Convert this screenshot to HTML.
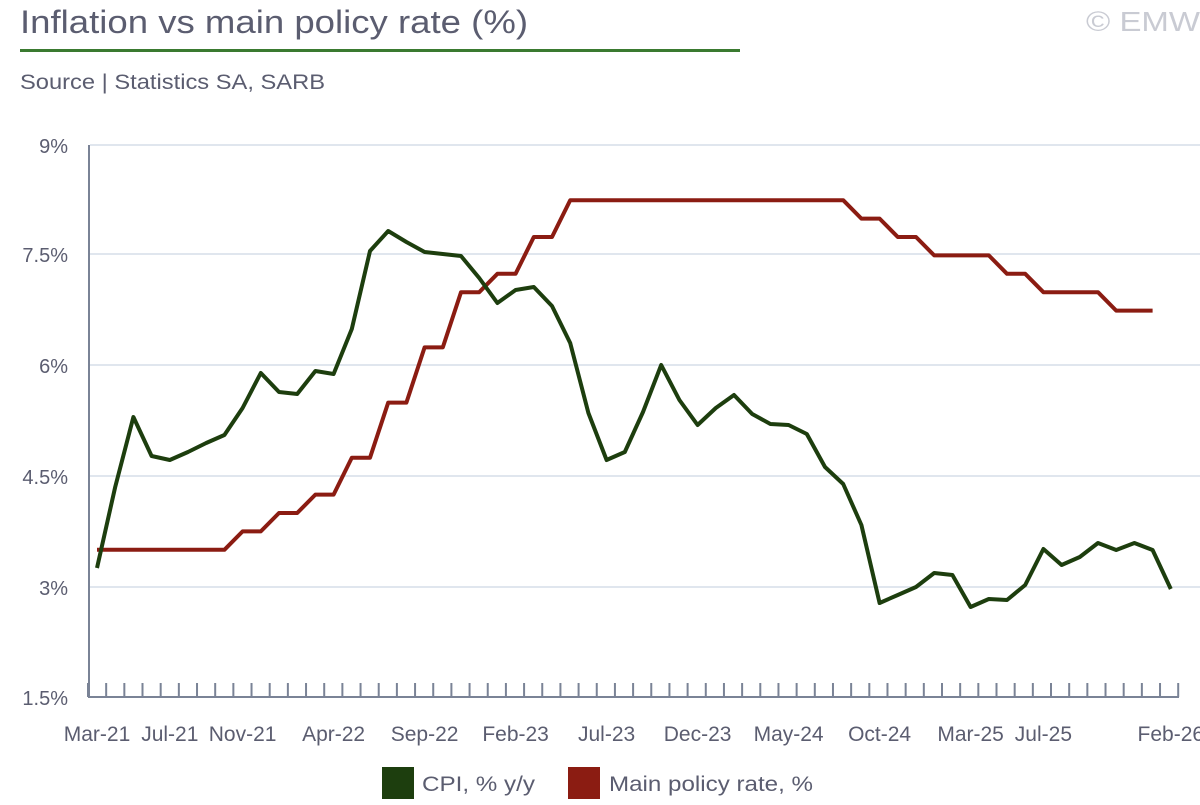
<!DOCTYPE html>
<html><head><meta charset="utf-8"><style>
body{margin:0;background:#fff;width:1200px;height:800px;overflow:hidden;font-family:"Liberation Sans",sans-serif}
</style></head><body>
<svg id="s" width="1200" height="800" xmlns="http://www.w3.org/2000/svg" font-family="Liberation Sans, sans-serif">
<text x="20" y="33" font-size="32" fill="#5b5d70" textLength="508" lengthAdjust="spacingAndGlyphs">Inflation vs main policy rate (%)</text>
<rect x="20" y="49" width="720" height="3" fill="#3a7a30"/>
<text x="1086" y="31" font-size="28" fill="#c9cbd3" textLength="114" lengthAdjust="spacingAndGlyphs">© EMW</text>
<text x="20" y="89" font-size="21" fill="#5b5d70" textLength="305" lengthAdjust="spacingAndGlyphs">Source | Statistics SA, SARB</text>
<g id="grid"></g>
<g id="ticks" stroke="#7a8396" stroke-width="2"></g>
<g font-size="20" fill="#5b5d70" text-anchor="end">
<text x="68" y="153">9%</text><text x="68" y="262">7.5%</text><text x="68" y="373">6%</text>
<text x="68" y="484">4.5%</text><text x="68" y="595">3%</text><text x="68" y="705">1.5%</text>
</g>
<g id="xl" font-size="21" fill="#5b5d70" text-anchor="middle"></g>
<polyline id="red" fill="none" stroke="#8b1c12" stroke-width="4" stroke-linejoin="round"/>
<polyline id="grn" fill="none" stroke="#1d3e0e" stroke-width="4" stroke-linejoin="round"/>
<rect x="382" y="767" width="32" height="32" fill="#1d3e0e"/>
<text x="422" y="791" font-size="21" fill="#5b5d70" textLength="113" lengthAdjust="spacingAndGlyphs">CPI, % y/y</text>
<rect x="568" y="767" width="32" height="32" fill="#8b1c12"/>
<text x="609" y="791" font-size="21" fill="#5b5d70" textLength="204" lengthAdjust="spacingAndGlyphs">Main policy rate, %</text>
</svg>
<script>
var NS="http://www.w3.org/2000/svg";
function el(p,t,a){var e=document.createElementNS(NS,t);for(var k in a)e.setAttribute(k,a[k]);document.getElementById(p).appendChild(e);return e;}
[145,254,365,476,587].forEach(function(y){el("grid","line",{x1:90,x2:1200,y1:y,y2:y,stroke:"#d5dde8","stroke-width":1.5});});
el("ticks","line",{x1:89,x2:89,y1:145,y2:697});
el("ticks","line",{x1:88,x2:1179,y1:697,y2:697});
for(var k=0;k<=60;k++){var x=88+18.17*k;el("ticks","line",{x1:x,x2:x,y1:683,y2:697});}
function X(i){return 97+18.2*i;}
var labs={0:"Mar-21",4:"Jul-21",8:"Nov-21",13:"Apr-22",18:"Sep-22",23:"Feb-23",28:"Jul-23",33:"Dec-23",38:"May-24",43:"Oct-24",48:"Mar-25",52:"Jul-25",59:"Feb-26"};
for(var i in labs){var t=el("xl","text",{x:X(+i),y:741});t.textContent=labs[i];}
var g=[568,487,417,456,460,452,443,435,408,373,392,394,371,374,329,251,231,242,252,254,256,278,303,290,287,306,343,413,460,452,412,365,400,425,408,395,414,424,425,434,467,484,525,603,595,587,573,575,607,599,600,585,549,565,557,543,550,543,550,589];
var r=[3.5,3.5,3.5,3.5,3.5,3.5,3.5,3.5,3.75,3.75,4,4,4.25,4.25,4.75,4.75,5.5,5.5,6.25,6.25,7,7,7.25,7.25,7.75,7.75];
for(var i=26;i<=41;i++)r.push(8.25);
r=r.concat([8,8,7.75,7.75,7.5,7.5,7.5,7.5,7.25,7.25,7,7,7,7,6.75,6.75,6.75]);
document.getElementById("grn").setAttribute("points",g.map(function(y,i){return X(i)+","+y;}).join(" "));
document.getElementById("red").setAttribute("points",r.map(function(v,i){return X(i)+","+(697-(v-1.5)*73.6);}).join(" "));
</script>
</body></html>
